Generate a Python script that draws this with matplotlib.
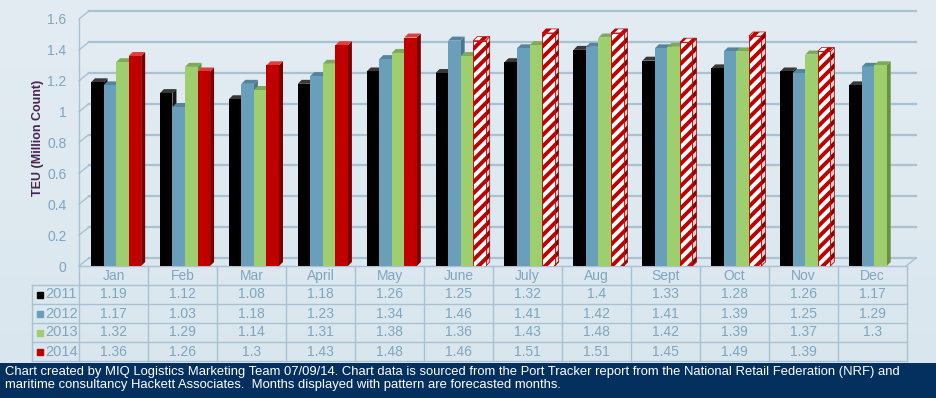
import numpy as np
import matplotlib.pyplot as plt
from matplotlib.patches import Polygon, Rectangle
from matplotlib.transforms import ScaledTranslation
from matplotlib.ticker import FuncFormatter
from matplotlib.colors import LinearSegmentedColormap

plt.rcParams['font.family'] = ['Liberation Sans', 'DejaVu Sans']
plt.rcParams['hatch.linewidth'] = 2.8

# data (TEU, million count)
months = ['Jan', 'Feb', 'Mar', 'April', 'May', 'June', 'July', 'Aug', 'Sept', 'Oct', 'Nov', 'Dec']
years = ['2011', '2012', '2013', '2014']
teu_2011 = [1.19, 1.12, 1.08, 1.18, 1.26, 1.25, 1.32, 1.4, 1.33, 1.28, 1.26, 1.17]
teu_2012 = [1.17, 1.03, 1.18, 1.23, 1.34, 1.46, 1.41, 1.42, 1.41, 1.39, 1.25, 1.29]
teu_2013 = [1.32, 1.29, 1.14, 1.31, 1.38, 1.36, 1.43, 1.48, 1.42, 1.39, 1.37, 1.3]
teu_2014 = [1.36, 1.26, 1.3, 1.43, 1.48, 1.46, 1.51, 1.51, 1.45, 1.49, 1.39, None]
forecast_2014 = [False, False, False, False, False, True, True, True, True, True, True, False]
yticks = [0, 0.2, 0.4, 0.6, 0.8, 1.0, 1.2, 1.4, 1.6]

series = [teu_2011, teu_2012, teu_2013, teu_2014]
front_col = ['#000000', '#6a9fbb', '#9dcf6e', '#c00000']
top_col = ['#383838', '#55849e', '#7eaa55', '#e23b3b']
side_col = ['#161616', '#4a7690', '#6a9143', '#7d0000']
grid_col = '#a9c1d0'
txt_col = '#7ea6bf'

fig = plt.figure(figsize=(9.37, 3.98), dpi=100)
W_PX, H_PX = 937, 398

# light background with a faint gradient
bg = fig.add_axes([0, 0, 1, 1], zorder=-5)
grad = np.linspace(0, 1, 256).reshape(-1, 1)
cmap = LinearSegmentedColormap.from_list('bg', ['#e3ecf2', '#d9e6ee'])
bg.imshow(grad, aspect='auto', cmap=cmap, extent=[0, 1, 0, 1])
bg.axis('off')

# main chart, x in month columns, y in TEU
col_px = 827 / 12
ax = fig.add_axes([79 / W_PX, (H_PX - 266) / H_PX, 827 / W_PX, 247 / H_PX])
ax.set_xlim(0, 12)
ax.set_ylim(0, 1.6)
ax.patch.set_alpha(0)
for sp in ax.spines.values():
    sp.set_visible(False)
ax.set_xticks([])
ax.set_yticks(yticks)
ax.yaxis.set_major_formatter(FuncFormatter(lambda v, p: '%g' % v))
ax.tick_params(axis='y', length=0, pad=9, labelsize=10, labelcolor=txt_col)
ax.set_ylabel('TEU (Million Count)', fontsize=9, fontweight='bold', color='#4b2350')
ax.yaxis.set_label_coords(-35 / 827, 0.52)

# back wall / floor (shifted by the 3D depth)
back = ax.transData + ScaledTranslation(10 / 100, 8 / 100, fig.dpi_scale_trans)
for v in yticks:
    ax.plot([0, 12], [v, v], color=grid_col, lw=1.6, transform=back, clip_on=False, zorder=1)
    ax.annotate('', xy=(0, v), xycoords=back, xytext=(0, v), textcoords='data',
                arrowprops=dict(arrowstyle='-', color=grid_col, lw=1, shrinkA=0, shrinkB=0))
ax.plot([0, 0], [0, 1.6], color=grid_col, lw=1, clip_on=False, zorder=1)
ax.plot([0, 12], [0, 0], color=grid_col, lw=1, clip_on=False, zorder=1)
ax.annotate('', xy=(12, 0), xycoords=back, xytext=(12, 0), textcoords='data',
            arrowprops=dict(arrowstyle='-', color=grid_col, lw=1, shrinkA=0, shrinkB=0))

# fake 3D bars
BW, X0 = 0.182, 0.174
DX, DY = 4 / col_px, 4 * 1.6 / 247


def draw_bars(xs, vals, s, hatched):
    z = 3 + 3 * s
    if hatched:
        ax.bar(xs, vals, width=BW, align='edge', color='white', edgecolor='#c00000',
               hatch='///', lw=0.6, zorder=z + 2)
    else:
        ax.bar(xs, vals, width=BW, align='edge', color=front_col[s], lw=0, zorder=z + 2)
    for x, v in zip(xs, vals):
        top = [(x, v), (x + BW, v), (x + BW + DX, v + DY), (x + DX, v + DY)]
        side = [(x + BW, 0), (x + BW + DX, DY), (x + BW + DX, v + DY), (x + BW, v)]
        if hatched:
            ax.add_patch(Polygon(top, facecolor='white', edgecolor='#c00000', hatch='///',
                                 lw=0.5, zorder=z + 1, clip_on=False))
            ax.add_patch(Polygon(side, facecolor='#e8c8c8', edgecolor='#8a0000', hatch='///',
                                 lw=0.5, zorder=z, clip_on=False))
        else:
            ax.add_patch(Polygon(top, facecolor=top_col[s], lw=0, zorder=z + 1, clip_on=False))
            ax.add_patch(Polygon(side, facecolor=side_col[s], lw=0, zorder=z, clip_on=False))


for s, vals in enumerate(series):
    solid_x, solid_v, hat_x, hat_v = [], [], [], []
    for m, v in enumerate(vals):
        if v is None:
            continue
        x = m + X0 + s * BW
        if s == 3 and forecast_2014[m]:
            hat_x.append(x)
            hat_v.append(v)
        else:
            solid_x.append(x)
            solid_v.append(v)
    draw_bars(solid_x, solid_v, s, False)
    if hat_x:
        draw_bars(hat_x, hat_v, s, True)

# data table under the chart
lab_w = 47 / col_px
tab = fig.add_axes([32 / W_PX, (H_PX - 361) / H_PX, 875 / W_PX, 95 / H_PX])
tab.set_xlim(-lab_w, 12)
tab.set_ylim(5, 0)
tab.axis('off')
for r in range(1, 6):
    tab.plot([-lab_w, 12], [r, r], color=grid_col, lw=1, clip_on=False)
for c in range(13):
    tab.plot([c, c], [0, 5], color=grid_col, lw=1, clip_on=False)
tab.plot([-lab_w, -lab_w], [1, 5], color=grid_col, lw=1, clip_on=False)

for m, name in enumerate(months):
    tab.text(m + 0.5, 0.55, name, ha='center', va='center', fontsize=10, color=txt_col)
for s, vals in enumerate(series):
    y = s + 1.5
    tab.plot(-lab_w + 8 / col_px, y, marker='s', ms=5, color=front_col[s], clip_on=False)
    tab.text(-lab_w + 13 / col_px, y, years[s], ha='left', va='center', fontsize=10.5, color=txt_col)
    for m, v in enumerate(vals):
        if v is not None:
            tab.text(m + 0.5, y, '%g' % v, ha='center', va='center', fontsize=10, color=txt_col)

# footer band
fig.add_artist(Rectangle((0, 0), 1, 35 / H_PX, transform=fig.transFigure,
                         facecolor='#04305f', edgecolor='none'))
fig.text(5 / W_PX, 1 - 366 / H_PX,
         'Chart created by MIQ Logistics Marketing Team 07/09/14. Chart data is sourced from the Port '
         'Tracker report from the National Retail Federation (NRF) and\nmaritime consultancy Hackett '
         'Associates.  Months displayed with pattern are forecasted months.',
         ha='left', va='top', fontsize=9.4, color='white', linespacing=1.12)

fig.savefig('out.png', dpi=100)
